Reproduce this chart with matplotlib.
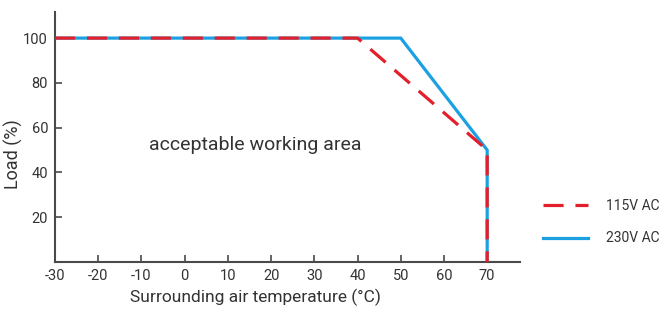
import matplotlib
matplotlib.use("Agg")
import matplotlib.pyplot as plt

plt.rcParams['font.family'] = ['Roboto', 'DejaVu Sans']

temp_230 = [-30, 50, 70, 70]
load_230 = [100, 100, 50, 0]
temp_115 = [-30, 40, 70, 70]
load_115 = [100, 100, 50, 0]
xticks = [-30, -20, -10, 0, 10, 20, 30, 40, 50, 60, 70]
yticks = [20, 40, 60, 80, 100]

fig = plt.figure(figsize=(6.65, 3.11), dpi=100)
ax = fig.add_axes([0.0827, 0.1576, 0.782 - 0.0827, 0.961 - 0.1576])

blue = '#1ba1e2'
red = '#e31f2b'
ax.plot(temp_230, load_230, color=blue, lw=2.3, label='230V AC', solid_joinstyle='miter', zorder=2)
ax.plot(temp_115, load_115, color=red, lw=2.3, dashes=(6.3, 3.7), label='115V AC', zorder=3)

ax.set_xlim(-30, 77.6)
ax.set_ylim(0, 111.6)
ax.set_xticks(xticks)
ax.set_yticks(yticks)
ax.set_xticklabels([str(v) for v in xticks])
ax.set_yticklabels([str(v) for v in yticks])
for s in ['top', 'right']:
    ax.spines[s].set_visible(False)
for s in ['left', 'bottom']:
    ax.spines[s].set_color('#4a4a4a')
    ax.spines[s].set_linewidth(1.5)
ax.tick_params(direction='in', length=5, width=1.2, color='#4a4a4a',
               labelsize=10.5, labelcolor='#333333', pad=5)

ax.set_xlabel('Surrounding air temperature (°C)', fontsize=12.5, color='#333333')
ax.xaxis.set_label_coords(0.43, -0.108)
ax.set_ylabel('Load (%)', fontsize=13, color='#333333')
ax.yaxis.set_label_coords(-0.068, 0.43)

ax.text(16.3, 52.2, 'acceptable working area', fontsize=14, color='#333333',
        ha='center', va='center')

handles, labels = ax.get_legend_handles_labels()
leg = fig.legend([handles[1], handles[0]], [labels[1], labels[0]],
                 loc='center left', bbox_to_anchor=(0.797, 0.285), frameon=False,
                 fontsize=10, handlelength=3.3, labelspacing=1.3,
                 labelcolor='#333333', handletextpad=1.3)

fig.savefig('out.png', dpi=100)
